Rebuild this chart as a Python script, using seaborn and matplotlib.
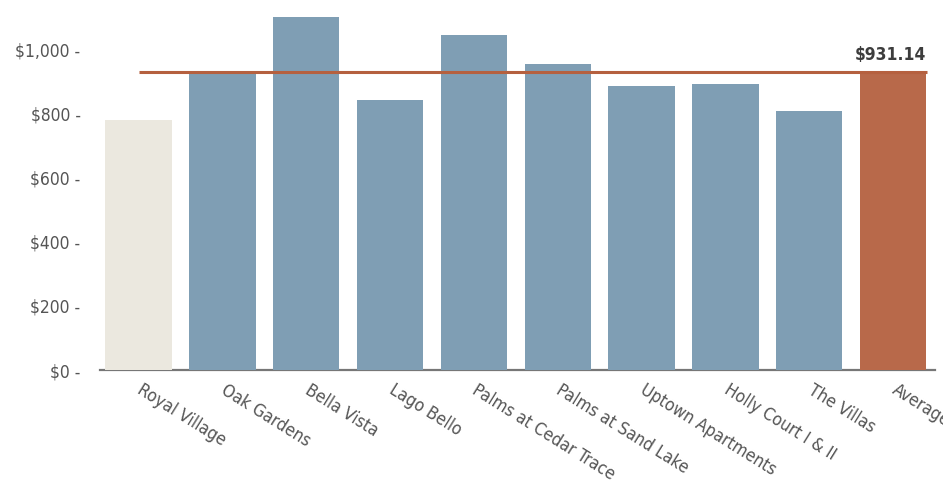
import matplotlib
matplotlib.use("Agg")
import matplotlib.pyplot as plt
import matplotlib.transforms as mtransforms
import seaborn as sns
import pandas as pd
from matplotlib import font_manager

categories = ["Royal Village", "Oak Gardens", "Bella Vista", "Lago Bello",
              "Palms at Cedar Trace", "Palms at Sand Lake", "Uptown Apartments",
              "Holly Court I & II", "The Villas", "Average"]
rents = [781, 926, 1103, 844, 1047, 956, 888, 894, 809, 931.14]
average_value = 931.14
yticks = [0, 200, 400, 600, 800, 1000]
ytick_labels = ["$0 -", "$200 -", "$400 -", "$600 -", "$800 -", "$1,000 -"]
bar_colors = ["#ebe8df"] + ["#7f9eb4"] * 8 + ["#b8694a"]

sns.set_theme(style="white")
plt.rcParams["font.family"] = ["DejaVu Sans"]


def is_cond(f):
    return (f.stretch in ("condensed", "semi-condensed", "extra-condensed")
            or "Narrow" in f.name or "Condensed" in f.name)


def wnum(w):
    if isinstance(w, int):
        return w
    return {"normal": 400, "regular": 400, "bold": 700}.get(str(w), 400)


cands = [f for f in font_manager.fontManager.ttflist if is_cond(f) and f.style == "normal"]
reg = next((f for f in cands if wnum(f.weight) == 400), None)
bold = None
if reg is not None:
    bold = next((f for f in cands if f.name == reg.name and wnum(f.weight) >= 600), None)


def fp(size, b=False):
    if b and bold is not None:
        return font_manager.FontProperties(fname=bold.fname, size=size)
    if reg is not None:
        return font_manager.FontProperties(fname=reg.fname, size=size)
    return font_manager.FontProperties(family="DejaVu Sans", stretch="condensed",
                                       size=size, weight="bold" if b else "normal")


df = pd.DataFrame({"name": categories, "rent": rents})

fig = plt.figure(figsize=(9.43, 4.82), dpi=100)
ax = fig.add_axes([100 / 943, 1 - 370 / 482, 835 / 943, 370 / 482])

sns.barplot(data=df, x="name", y="rent", hue="name", palette=bar_colors,
            legend=False, width=0.79, saturation=1, linewidth=0, ax=ax)

ax.plot([0, 9.4], [average_value, average_value], color="#b5603f", lw=2.2,
        solid_capstyle="butt", zorder=5)

ax.text(9.4, average_value + 25, "$931.14", ha="right", va="bottom",
        fontproperties=fp(12.5, True), color="#3d3d3d")

ax.set_xlim(-0.46, 9.5)
ax.set_ylim(0, 1156)
ax.set_yticks(yticks)
ax.set_yticklabels(ytick_labels, fontproperties=fp(12.5), color="#555555")
ax.tick_params(axis="y", length=0, pad=14)
ax.tick_params(axis="x", length=0, pad=8)
ax.set_xticks(range(len(categories)))
ax.set_xticklabels(categories, rotation=-32, ha="left", va="top",
                   rotation_mode="anchor", fontproperties=fp(12.5), color="#555555")
offset = mtransforms.ScaledTranslation(5 / 100, 0, fig.dpi_scale_trans)
for lab in ax.get_xticklabels():
    lab.set_transform(lab.get_transform() + offset)

ax.set_xlabel("")
ax.set_ylabel("")
for s in ["top", "right", "left"]:
    ax.spines[s].set_visible(False)
ax.spines["bottom"].set_color("#777777")
ax.spines["bottom"].set_linewidth(1.6)
ax.spines["bottom"].set_zorder(0)

fig.savefig("out.png", dpi=100)
